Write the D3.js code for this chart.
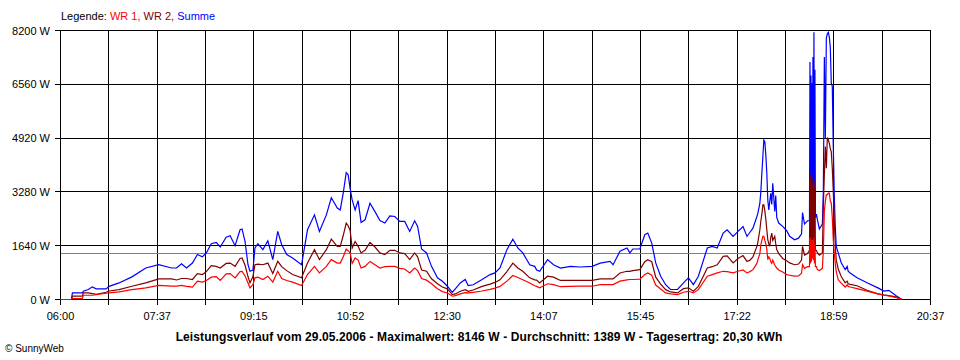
<!DOCTYPE html>
<html><head><meta charset="utf-8">
<script src="https://cdn.jsdelivr.net/npm/d3@7"></script>
<style>
html,body{margin:0;padding:0;background:#fff;}
svg{display:block;font-family:"Liberation Sans",Arial,sans-serif;}
</style></head><body>
<svg id="chart" width="960" height="360"></svg>
<script>
// ---- data ----
const times = ["06:00","06:11","06:12","06:22","06:23","06:28","06:32","06:36","06:46","06:49","06:59","07:12","07:26","07:39","07:52","07:57","08:02","08:07","08:13","08:18","08:23","08:27","08:32","08:37","08:41","08:47","08:51","08:56","09:01","09:03","09:06","09:09","09:11","09:14","09:16","09:19","09:24","09:29","09:34","09:39","09:43","09:48","09:54","10:03","10:09","10:16","10:21","10:28","10:33","10:39","10:42","10:45","10:48","10:50","10:52","10:54","10:57","11:00","11:03","11:07","11:12","11:17","11:22","11:27","11:32","11:37","11:42","11:47","11:52","11:57","12:00","12:04","12:09","12:14","12:20","12:25","12:30","12:35","12:38","12:43","12:48","12:51","12:56","13:05","13:13","13:18","13:23","13:30","13:36","13:41","13:46","13:53","13:58","14:00","14:03","14:11","14:17","14:24","14:34","14:44","14:56","15:04","15:14","15:17","15:24","15:31","15:34","15:37","15:44","15:49","15:52","15:56","16:00","16:05","16:10","16:15","16:22","16:28","16:33","16:38","16:43","16:52","16:57","17:02","17:08","17:12","17:18","17:23","17:28","17:32","17:35","17:38","17:42","17:43","17:45","17:46","17:47","17:48","17:49","17:50","17:51","17:52","17:53","17:54","17:55","17:56","17:57","17:58","18:00","18:01","18:02","18:04","18:08","18:12","18:15","18:20","18:24","18:27","18:28","18:30","18:33",
"18:35:00","18:35:30","18:36:00","18:36:30","18:37:00","18:37:30","18:38:00","18:38:30","18:39:00","18:39:30","18:40:00","18:40:30","18:41:00","18:42","18:43","18:45","18:48","18:49","18:50","18:51","18:52","18:53","18:54","18:55","18:56","18:57","18:58","18:59","19:00","19:01","19:02","19:04","19:07","19:11","19:13","19:14","19:16","19:23","19:33","19:44","19:50","19:55","20:02","20:07","20:08"];

const summe = [0,0,200,200,250,305,385,325,325,400,505,690,960,1060,960,960,1090,960,1110,1370,1300,1420,1700,1740,1600,1900,1945,1640,2125,2150,1770,1060,860,900,1570,1700,1520,1790,1215,2075,1670,1370,1265,1060,2125,2580,2075,2580,3100,2785,2730,3240,3870,3800,3370,3035,2730,3015,2350,2430,2935,2680,2410,2330,2550,2530,2380,2380,2075,2400,2225,1540,1420,1010,660,555,405,220,325,505,610,425,450,610,760,810,960,1520,1840,1570,1420,1060,1010,900,860,1215,1060,960,1010,990,1010,1110,1160,1060,1470,1570,1420,1540,1540,1975,2025,1720,1115,710,450,305,305,505,660,455,710,1570,1620,1570,2025,2125,1925,2075,2225,1925,2050,2175,2530,2630,2935,3300,3850,4350,4860,4800,4400,3850,3035,2730,3000,3240,2900,3545,2680,3170,2500,2330,2230,2100,1925,1820,1870,2000,2650,2300,2400,
2400,7240,2400,6830,2500,6600,2600,7390,2700,8146,2600,7000,2500,2600,2430,2150,2300,3340,7390,4900,7970,8100,8146,8000,7690,6590,6500,4660,3200,2225,1620,1420,1120,910,1010,860,810,660,510,355,255,280,120,20,0];

const wr2 = [0,0,100,100,200,200,180,160,220,260,300,405,505,630,630,595,640,640,610,790,760,850,1030,1010,960,1100,1110,1010,1250,1265,1050,700,505,700,1060,1080,1060,1110,790,1165,1000,880,760,660,1110,1520,1215,1520,1840,1620,1620,1950,2330,2250,2100,1570,1770,1620,1420,1500,1740,1600,1420,1370,1500,1500,1420,1400,1215,1420,1300,900,860,630,480,380,325,150,170,250,300,250,290,400,470,520,600,850,1110,960,860,660,600,590,505,710,680,580,580,585,585,630,630,630,810,860,860,880,910,1150,1215,1150,680,470,300,230,200,330,355,255,400,960,1000,1060,1315,1330,1115,1250,1340,1160,1200,1300,1620,1750,2125,2400,2600,2885,2885,2700,2450,2125,1820,1700,1620,1900,2025,1800,1925,1700,1520,1400,1250,1180,1115,1060,1080,1200,1620,1350,1400,
1500,3640,1600,3850,1700,3500,1800,3700,1700,3600,1600,3400,1500,1500,1420,1350,1420,2900,3800,4660,4000,4940,4860,4760,4600,4500,4000,3300,2400,1650,1200,930,700,510,560,480,460,420,280,170,140,120,80,20,0];

const wr1 = [0,0,30,30,130,130,130,150,190,200,230,300,355,430,410,405,430,400,380,560,530,580,680,700,585,780,790,660,850,860,720,500,355,450,660,680,610,710,530,860,640,580,530,425,760,1010,810,1010,1215,1110,1110,1300,1540,1480,1420,1100,1265,1200,960,1010,1160,1060,960,1000,1010,1010,950,930,810,960,880,640,590,480,330,240,200,100,120,170,210,200,220,260,310,345,400,560,730,670,600,505,420,400,355,480,455,390,400,405,405,455,455,455,560,600,610,610,620,760,810,740,440,320,200,170,150,220,250,200,300,710,760,810,860,850,810,860,900,810,850,910,1100,1215,1400,1670,1800,1925,1925,1800,1700,1520,1215,1300,1250,1150,1100,1200,1050,1000,960,900,840,760,740,710,720,800,1060,950,1000,
1000,1900,1100,1850,1150,1800,1250,1800,1200,1900,1100,1700,1000,1000,910,880,950,1500,2700,3000,3190,3190,3240,3240,3000,2935,2500,1820,1420,1100,850,600,500,380,450,400,380,330,255,170,130,110,60,20,0];

const seriesNames = ["WR 1", "WR 2", "Summe"];
const seriesColors = ["#ff0000", "#800000", "#0000ff"];
const yTickValues = [0, 1640, 3280, 4920, 6560, 8200];
const xTickLabels = ["06:00","07:37","09:15","10:52","12:30","14:07","15:45","17:22","18:59","20:37"];
const averageValue = 1389;
const legendTitle = "Legende: ";
const footerText = "Leistungsverlauf vom 29.05.2006 - Maximalwert: 8146 W - Durchschnitt: 1389 W - Tagesertrag: 20,30 kWh";
const copyrightText = "\u00A9 SunnyWeb";

// ---- drawing ----
const toMin = t => { const p = t.split(":").map(Number); return p[0] * 60 + p[1] + (p[2] || 0) / 60; };
const tStart = toMin(xTickLabels[0]), tEnd = toMin(xTickLabels[xTickLabels.length - 1]);

const svg = d3.select("#chart");
const x = d3.scaleLinear().domain([tStart, tEnd]).range([60.5, 930.5]);
const y = d3.scaleLinear().domain([0, 8200]).range([299.5, 30.5]);
const crisp = v => Math.round(v - 0.5) + 0.5;

const gridCount = (xTickLabels.length - 1) * 2;
const gridTimes = d3.range(gridCount + 1).map(i => tStart + i * (tEnd - tStart) / gridCount);

const g = svg.append("g").attr("shape-rendering", "crispEdges");

// horizontal grid + y ticks
g.selectAll("line.h").data(yTickValues).join("line")
  .attr("x1", 55).attr("x2", 930.5)
  .attr("y1", d => crisp(y(d))).attr("y2", d => crisp(y(d)))
  .attr("stroke", "#000").attr("stroke-width", 1);

// vertical grid + x ticks
g.selectAll("line.v").data(gridTimes).join("line")
  .attr("x1", d => crisp(x(d))).attr("x2", d => crisp(x(d)))
  .attr("y1", 30).attr("y2", 305)
  .attr("stroke", "#000").attr("stroke-width", 1);

// y labels
svg.selectAll("text.yl").data(yTickValues).join("text")
  .attr("x", 50).attr("y", d => y(d) + 4)
  .attr("text-anchor", "end").attr("font-size", 11).attr("fill", "#000")
  .text(d => d + " W");

// x labels
svg.selectAll("text.xl").data(xTickLabels).join("text")
  .attr("x", (d, i) => x(gridTimes[i * 2]))
  .attr("y", 320)
  .attr("text-anchor", "middle").attr("font-size", 11).attr("fill", "#000")
  .text(d => d);

// average line
g.append("line")
  .attr("x1", 61).attr("x2", 930)
  .attr("y1", crisp(y(averageValue))).attr("y2", crisp(y(averageValue)))
  .attr("stroke", "#808080").attr("stroke-width", 1);

// data lines: Summe first, then WR 2, then WR 1 on top
const seriesData = [wr1, wr2, summe];
const line = d3.line().x(d => x(d[0])).y(d => y(d[1]));
[2, 1, 0].forEach(k => {
  const pts = times.map((t, i) => [toMin(t), seriesData[k][i]]);
  svg.append("path")
    .attr("d", line(pts))
    .attr("fill", "none")
    .attr("stroke", seriesColors[k])
    .attr("stroke-width", 1.2)
    .attr("stroke-linejoin", "miter");
});

// legend
const leg = svg.append("text").attr("x", 61).attr("y", 20).attr("font-size", 11);
leg.append("tspan").attr("fill", "#000").text(legendTitle);
seriesNames.forEach((n, i) => {
  leg.append("tspan").attr("fill", seriesColors[i])
    .text(n + (i < seriesNames.length - 1 ? ", " : ""));
});

// footer
svg.append("text").attr("x", 479).attr("y", 341)
  .attr("text-anchor", "middle").attr("font-size", 12).attr("font-weight", "bold")
  .attr("letter-spacing", 0.1)
  .attr("fill", "#000").text(footerText);

svg.append("text").attr("x", 5).attr("y", 352)
  .attr("font-size", 10).attr("fill", "#000").text(copyrightText);
</script>
</body></html>
